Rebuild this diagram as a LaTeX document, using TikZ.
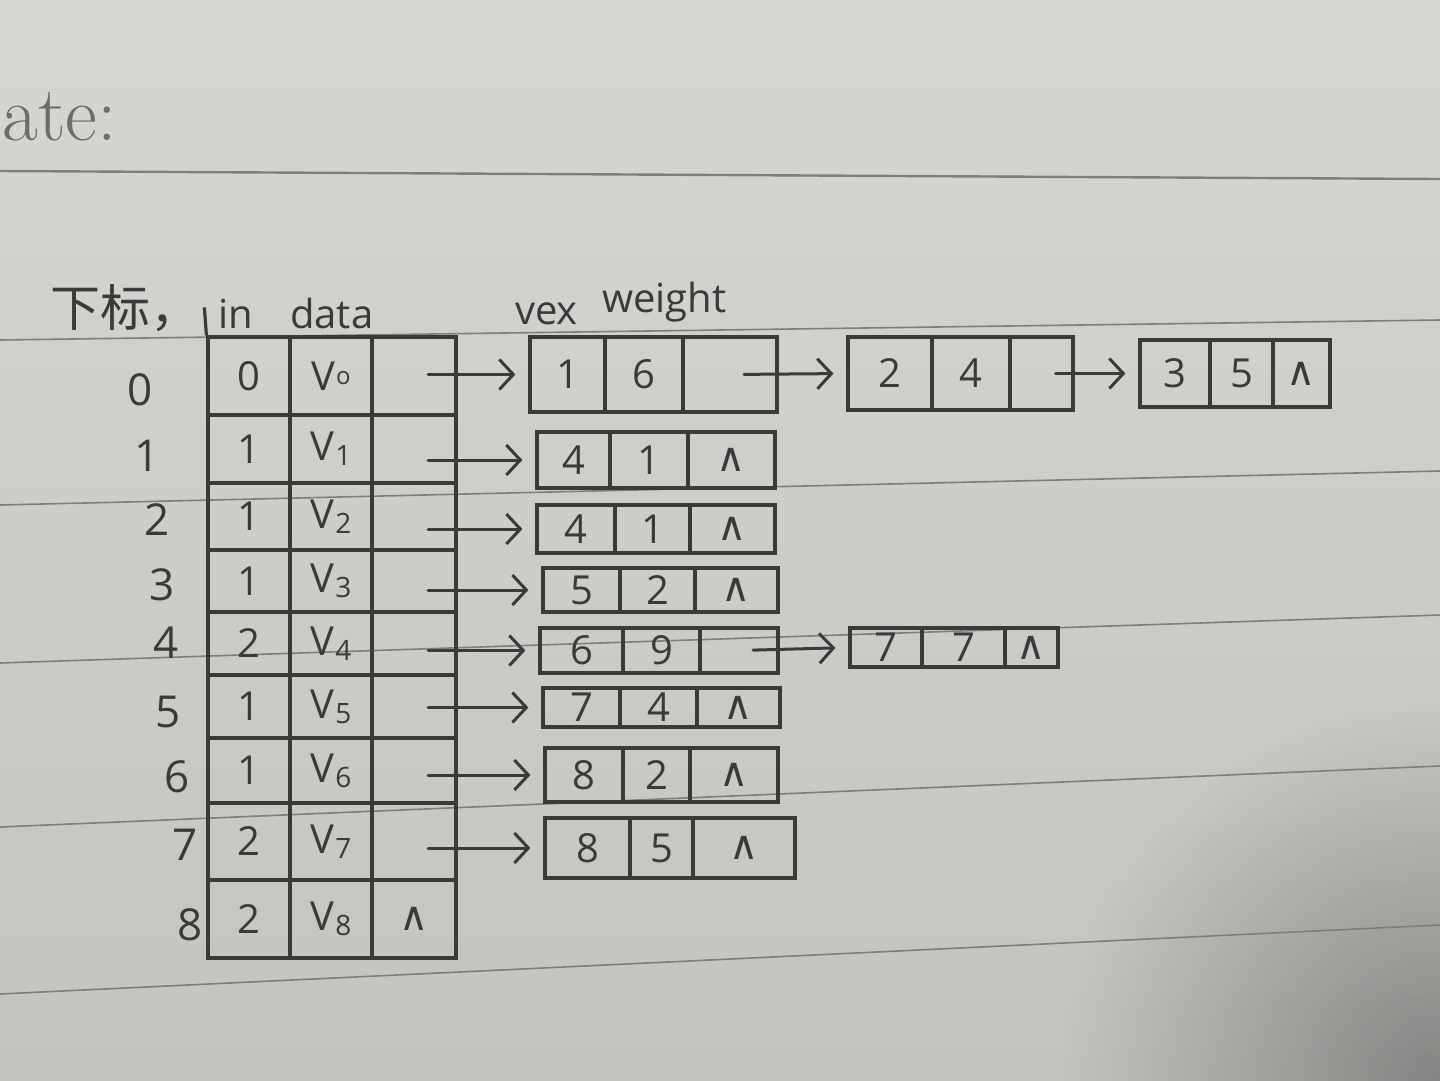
\documentclass[tikz,border=0pt]{standalone}
\usepackage{fontspec}
\setmainfont{Open Sans}
\newfontfamily\cjk{Noto Sans CJK SC}
\newfontfamily\symf{DejaVu Sans}
\newfontfamily\printf{Latin Modern Roman}
\usetikzlibrary{arrows.meta,fit,fadings}
\definecolor{paper}{HTML}{D7D6D3}
\definecolor{paperlow}{HTML}{C4C3C0}
\definecolor{ink}{HTML}{3A3A3A}
\definecolor{ruleline}{HTML}{7E7E7C}
\definecolor{printgray}{HTML}{6C6C6C}
\tikzfading[name=cornerfade, inner color=transparent!0, outer color=transparent!100]
\newcommand\nil{{\symf ∧}}
\newcommand\vs[1]{V\kern1pt\raisebox{-5pt}{\fontsize{28}{28}\selectfont #1}}
\newcommand\vo{V\kern1pt\raisebox{6pt}{\fontsize{24}{24}\selectfont o}}
\newcommand\cellbox[6]{\node[cell, fit={(#2,#3) (#4,#5)}] (#1) {};
  \node[num] (#1t) at (#1.center) {#6};}
% edge box whose third cell is a null pointer
\newcommand\eboxnil[9]{\cellbox{#1a}{#2}{#6}{#3}{#7}{#8}
  \cellbox{#1b}{#3}{#6}{#4}{#7}{#9}
  \cellbox{#1c}{#4}{#6}{#5}{#7}{\nil}}
% edge box whose third cell holds a pointer
\newcommand\eboxptr[9]{\cellbox{#1a}{#2}{#6}{#3}{#7}{#8}
  \cellbox{#1b}{#3}{#6}{#4}{#7}{#9}
  \cellbox{#1c}{#4}{#6}{#5}{#7}{}}
\begin{document}
\begin{tikzpicture}[x=1pt,y=-1pt,
  cell/.style={draw=ink, line width=3.2pt, inner sep=0pt},
  num/.style={text=ink, inner sep=0pt, font=\fontsize{40}{44}\selectfont},
  idx/.style={text=ink, inner sep=0pt, font=\fontsize{44}{48}\selectfont},
  head/.style={text=ink, inner sep=0pt, font=\fontsize{40}{44}\selectfont, anchor=base west},
  arr/.style={draw=ink, line width=3pt, line cap=round,
    -{Straight Barb[length=14pt,width=30pt,line width=3pt]},
    shorten <=14pt, shorten >=13pt},
  ruled/.style={draw=ruleline, line width=1.6pt}]
\useasboundingbox (0,0) rectangle (1440,1080);
% paper
\shade[top color=paper, bottom color=paperlow] (0,0) rectangle (1440,1080);
\fill[black, opacity=0.32, path fading=cornerfade] (1440,1080) circle (380);
% ruled lines
\draw[ruled, line width=2.4pt] (0,171) -- (1440,179);
\draw[ruled] (0,340) -- (1440,320);
\draw[ruled] (0,505) -- (1440,471);
\draw[ruled] (0,663) -- (1440,615);
\draw[ruled] (0,827) -- (1440,766);
\draw[ruled] (0,994) -- (1440,925);
% printed header
\node[text=printgray, inner sep=0pt, anchor=base west, font=\printf\fontsize{78}{80}\selectfont] (date) at (2,140) {ate:};
% column headers
\node[text=ink, inner sep=0pt, anchor=base west, font=\cjk\fontsize{50}{54}\selectfont] (hidx) at (50,326) {下标，};
\node[head] (hin) at (218,328) {in};
\node[head] (hdata) at (290,328) {data};
\node[head] (hvex) at (515,324) {vex};
\node[head] (hweight) at (602,312) {weight};
% vertex table
\foreach \r/\yt/\yb/\a/\b/\c in {0/337/415/0/{\vo}/{},1/415/483/1/{\vs{1}}/{},2/483/550/1/{\vs{2}}/{},
  3/550/612/1/{\vs{3}}/{},4/612/675/2/{\vs{4}}/{},5/675/738/1/{\vs{5}}/{},6/738/803/1/{\vs{6}}/{},
  7/803/880/2/{\vs{7}}/{},8/880/958/2/{\vs{8}}/{\nil}}{
  \cellbox{t\r a}{208}{\yt}{290}{\yb}{\a}
  \cellbox{t\r b}{290}{\yt}{372}{\yb}{\b}
  \cellbox{t\r c}{372}{\yt}{456}{\yb}{\c}
}
\draw[ink, line width=3.2pt] (t0a.north west) -- ++(-2,-28);
% index labels
\foreach \r/\x/\y in {0/140/390,1/147/456,2/157/520,3/162/585,4/166/643,5/168/712,6/177/777,7/185/845,8/190/925}{
  \node[idx] (i\r) at (\x,\y) {\r};
}
% edge nodes
\eboxptr{e0}{530}{605}{683}{777}{337}{412}{1}{6}
\eboxptr{f0}{848}{932}{1010}{1073}{337}{410}{2}{4}
\eboxnil{g0}{1140}{1210}{1273}{1330}{340}{407}{3}{5}
\eboxnil{e1}{537}{610}{688}{775}{432}{488}{4}{1}
\eboxnil{e2}{537}{615}{690}{775}{505}{553}{4}{1}
\eboxnil{e3}{543}{620}{695}{778}{568}{612}{5}{2}
\eboxptr{e4}{540}{623}{700}{778}{628}{673}{6}{9}
\eboxnil{f4}{850}{922}{1005}{1058}{628}{667}{7}{7}
\eboxnil{e5}{543}{620}{697}{780}{688}{727}{7}{4}
\eboxnil{e6}{545}{623}{690}{778}{748}{802}{8}{2}
\eboxnil{e7}{545}{630}{693}{795}{818}{878}{8}{5}
% pointers from the vertex table
\foreach \r in {0,...,7}{
  \draw[arr] (t\r c.center |- e\r a.west) -- (e\r a.west);
}
% pointers between edge nodes
\draw[arr] (e0c.center) -- (f0a.west);
\draw[arr] (f0c.center) -- (g0a.west);
\draw[arr] (e4c.center) -- (f4a.west);
\end{tikzpicture}
\end{document}
